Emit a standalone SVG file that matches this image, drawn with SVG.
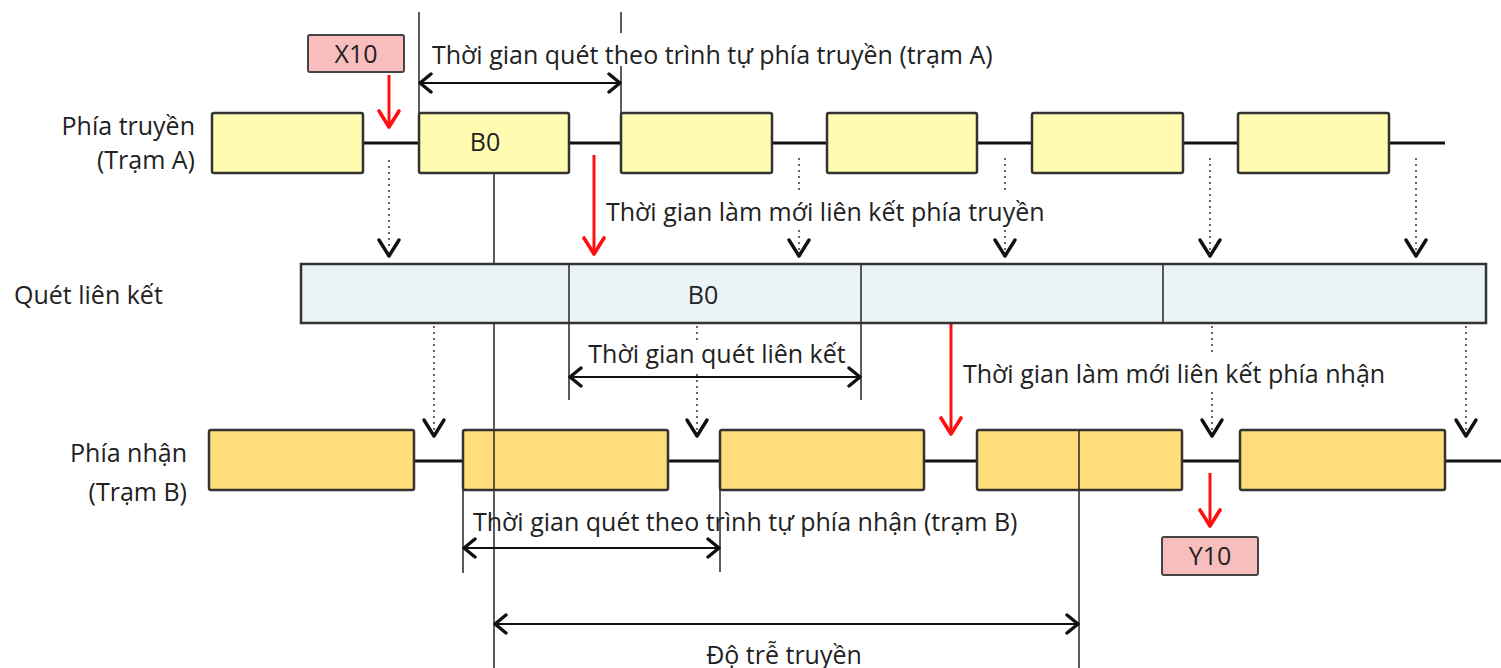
<svg xmlns="http://www.w3.org/2000/svg" width="1501" height="668" viewBox="0 0 1501 668">
<defs>
<style>
text{font-family:"Open Sans","Noto Sans",sans-serif;font-size:25px;fill:#222}
.ta{fill:#FFFBB0;stroke:#333;stroke-width:2.5}
.tb{fill:#FFDD7A;stroke:#333;stroke-width:2.5}
.lk{fill:#EAF4F6;stroke:#333;stroke-width:2.5}
.tag{fill:#F8BDBD;stroke:#444;stroke-width:2}
.bus{stroke:#111;stroke-width:3;fill:none}
.thin{stroke:#333;stroke-width:1.6;fill:none}
.dot{stroke:#666;stroke-width:2;stroke-dasharray:2 4;fill:none}
.vh{stroke:#111;stroke-width:3.4;fill:none;stroke-linecap:round;stroke-linejoin:round}
.red{stroke:#FF1010;stroke-width:3;fill:none}
.redh{stroke:#FF1010;stroke-width:3.6;fill:none;stroke-linecap:round;stroke-linejoin:round}
.dim{stroke:#111;stroke-width:2;fill:none}
.dimh{stroke:#111;stroke-width:3.4;fill:none;stroke-linecap:round;stroke-linejoin:round}
</style>
</defs>
<rect width="1501" height="668" fill="#fff"/>

<g id="labels">
<text x="195" y="135" text-anchor="end" font-size="24">Phía truyền</text>
<text x="195" y="169" text-anchor="end" font-size="24">(Trạm A)</text>
<text x="14" y="304">Quét liên kết</text>
<text x="187" y="462" text-anchor="end" font-size="24">Phía nhận</text>
<text x="187" y="501" text-anchor="end" font-size="24">(Trạm B)</text>
</g>

<g id="connectors">
<line class="bus" x1="363" y1="143" x2="1445" y2="143"/>
<line class="bus" x1="414" y1="461" x2="1501" y2="461"/>
<line class="thin" x1="419" y1="12" x2="419" y2="113"/>
<line class="thin" x1="621" y1="12" x2="621" y2="33"/>
<line class="thin" x1="621" y1="66" x2="621" y2="113"/>
<line class="thin" x1="494" y1="173" x2="494" y2="668"/>
<line class="thin" x1="569" y1="323" x2="569" y2="400"/>
<line class="thin" x1="861" y1="323" x2="861" y2="400"/>
<line class="thin" x1="463" y1="490" x2="463" y2="573"/>
<line class="thin" x1="720" y1="490" x2="720" y2="572"/>
<line class="thin" x1="1079" y1="490" x2="1079" y2="668"/>
<line class="dot" x1="389" y1="160" x2="389" y2="250"/>
<line class="dot" x1="799" y1="158" x2="799" y2="190"/>
<line class="dot" x1="799" y1="230" x2="799" y2="250"/>
<line class="dot" x1="1005" y1="158" x2="1005" y2="190"/>
<line class="dot" x1="1005" y1="230" x2="1005" y2="250"/>
<line class="dot" x1="1210" y1="158" x2="1210" y2="250"/>
<line class="dot" x1="1416" y1="158" x2="1416" y2="250"/>
<path class="vh" d="M379 240 L389 256 L399 240"/>
<path class="vh" d="M789 240 L799 256 L809 240"/>
<path class="vh" d="M995 240 L1005 256 L1015 240"/>
<path class="vh" d="M1200 240 L1210 256 L1220 240"/>
<path class="vh" d="M1406 240 L1416 256 L1426 240"/>
<line class="dot" x1="434" y1="326" x2="434" y2="430"/>
<line class="dot" x1="697" y1="326" x2="697" y2="340"/>
<line class="dot" x1="697" y1="374" x2="697" y2="430"/>
<line class="dot" x1="1212" y1="326" x2="1212" y2="355"/>
<line class="dot" x1="1212" y1="392" x2="1212" y2="430"/>
<line class="dot" x1="1466" y1="326" x2="1466" y2="430"/>
<path class="vh" d="M424 420 L434 436 L444 420"/>
<path class="vh" d="M687 420 L697 436 L707 420"/>
<path class="vh" d="M1202 420 L1212 436 L1222 420"/>
<path class="vh" d="M1456 420 L1466 436 L1476 420"/>
<line class="red" x1="389" y1="75" x2="389" y2="126"/>
<path class="redh" d="M379 111 L389 127 L399 111"/>
<line class="red" x1="594" y1="155" x2="594" y2="253"/>
<path class="redh" d="M584 238 L594 254 L604 238"/>
<line class="red" x1="951" y1="323" x2="951" y2="433"/>
<path class="redh" d="M941 418 L951 434 L961 418"/>
<line class="red" x1="1210" y1="473" x2="1210" y2="525"/>
<path class="redh" d="M1200 510 L1210 526 L1220 510"/>
<line class="dim" x1="420" y1="83" x2="620" y2="83"/>
<path class="dimh" d="M431 74 L420 83 L431 92 M609 74 L620 83 L609 92"/>
<line class="dim" x1="570" y1="377" x2="860" y2="377"/>
<path class="dimh" d="M581 368 L570 377 L581 386 M849 368 L860 377 L849 386"/>
<line class="dim" x1="464" y1="548" x2="719" y2="548"/>
<path class="dimh" d="M475 539 L464 548 L475 557 M708 539 L719 548 L708 557"/>
<line class="dim" x1="495" y1="624" x2="1078" y2="624"/>
<path class="dimh" d="M506 615 L495 624 L506 633 M1067 615 L1078 624 L1067 633"/>
</g>

<g id="tx-row">
<rect class="ta" x="212" y="113" width="151" height="60" rx="2"/>
<rect class="ta" x="419" y="113" width="150" height="60" rx="2"/>
<rect class="ta" x="621" y="113" width="151" height="60" rx="2"/>
<rect class="ta" x="827" y="113" width="150" height="60" rx="2"/>
<rect class="ta" x="1032" y="113" width="151" height="60" rx="2"/>
<rect class="ta" x="1238" y="113" width="151" height="60" rx="2"/>
<text x="485" y="151" text-anchor="middle">B0</text>
</g>

<g id="link-row">
<rect class="lk" x="301" y="264" width="1185" height="59"/>
<line class="thin" x1="569" y1="264" x2="569" y2="323"/>
<line class="thin" x1="861" y1="264" x2="861" y2="323"/>
<line class="thin" x1="1163" y1="264" x2="1163" y2="323"/>
<text x="703" y="304" text-anchor="middle">B0</text>
</g>

<g id="rx-row">
<rect class="tb" x="209" y="430" width="205" height="60" rx="2"/>
<rect class="tb" x="463" y="430" width="205" height="60" rx="2"/>
<rect class="tb" x="720" y="430" width="204" height="60" rx="2"/>
<rect class="tb" x="977" y="430" width="205" height="60" rx="2"/>
<rect class="tb" x="1240" y="430" width="205" height="60" rx="2"/>
<line class="thin" x1="1079" y1="430" x2="1079" y2="490"/>
<line class="thin" x1="494" y1="430" x2="494" y2="490"/>
</g>

<g id="x10">
<rect class="tag" x="308" y="35" width="96" height="37" rx="2"/>
<text x="356" y="63" text-anchor="middle">X10</text>
</g>
<g id="y10">
<rect class="tag" x="1162" y="537" width="96" height="38" rx="2"/>
<text x="1210" y="565" text-anchor="middle">Y10</text>
</g>

<g id="annotations">
<text x="432" y="64">Thời gian quét theo trình tự phía truyền (trạm A)</text>
<text x="606" y="221">Thời gian làm mới liên kết phía truyền</text>
<text x="717" y="363" text-anchor="middle">Thời gian quét liên kết</text>
<text x="963" y="383">Thời gian làm mới liên kết phía nhận</text>
<text x="473" y="531">Thời gian quét theo trình tự phía nhận (trạm B)</text>
<text x="784" y="664" text-anchor="middle">Độ trễ truyền</text>
</g>
</svg>
